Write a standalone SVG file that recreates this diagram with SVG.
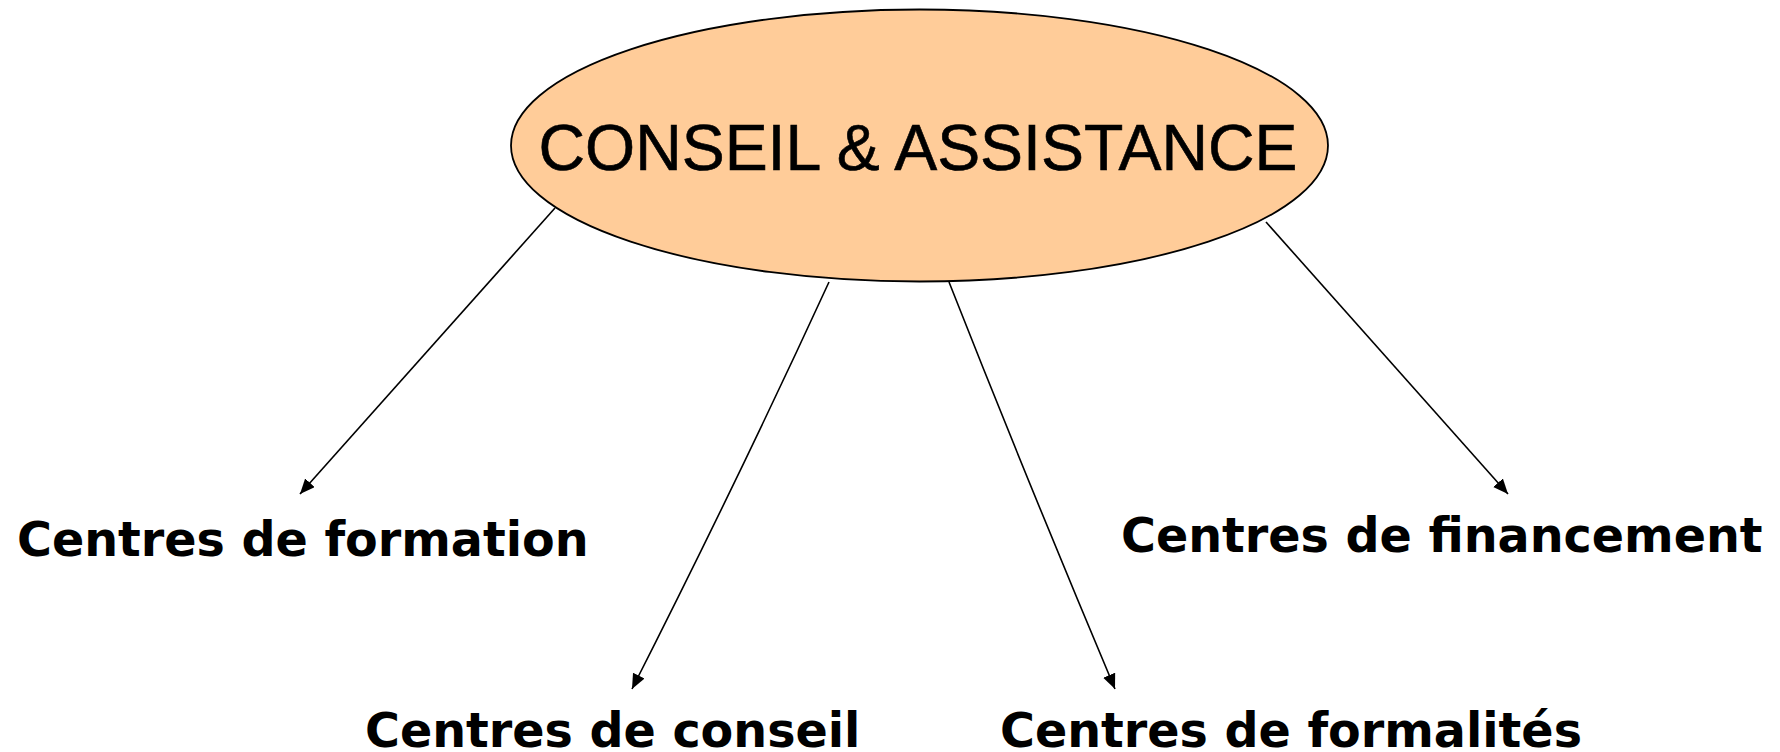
<svg xmlns="http://www.w3.org/2000/svg" width="1780" height="752" viewBox="0 0 1780 752">
<style>
.bg{fill:#ffffff}
.hub{fill:#FFCC99;stroke:#000;stroke-width:1.8}
.hubtxt{font-family:"Liberation Sans",Arial,sans-serif;font-size:65px;fill:#000;stroke:#000;stroke-width:0.6}
.lbl{font-family:"DejaVu Sans",Verdana,sans-serif;font-weight:bold;font-size:47.6px;fill:#000}
.conn{fill:none;stroke:#000;stroke-width:1.6}
</style>
<defs>
<marker id="arr" markerUnits="userSpaceOnUse" markerWidth="16" markerHeight="14" refX="15" refY="6.5" orient="auto">
<path d="M0,0 L15,6.5 L0,13 z" fill="#000"/>
</marker>
</defs>
<rect class="bg" x="0" y="0" width="1780" height="752"/>
<g id="connectors">
<path class="conn" d="M555,208 L300,494" marker-end="url(#arr)"/>
<path class="conn" d="M829,282 Q738,480 632,689" marker-end="url(#arr)"/>
<path class="conn" d="M949,282 Q1027,480 1115,689" marker-end="url(#arr)"/>
<path class="conn" d="M1266,222 L1508,494" marker-end="url(#arr)"/>
</g>
<g id="hub">
<ellipse class="hub" cx="919.5" cy="145.5" rx="408.5" ry="136"/>
<text class="hubtxt" x="918" y="170" text-anchor="middle" textLength="759" lengthAdjust="spacingAndGlyphs">CONSEIL &amp; ASSISTANCE</text>
</g>
<g id="formation">
<text class="lbl" x="17" y="556">Centres de formation</text>
</g>
<g id="conseil">
<text class="lbl" x="365" y="747">Centres de conseil</text>
</g>
<g id="formalites">
<text class="lbl" x="1000" y="747">Centres de formalités</text>
</g>
<g id="financement">
<text class="lbl" x="1121" y="552">Centres de financement</text>
</g>
</svg>
